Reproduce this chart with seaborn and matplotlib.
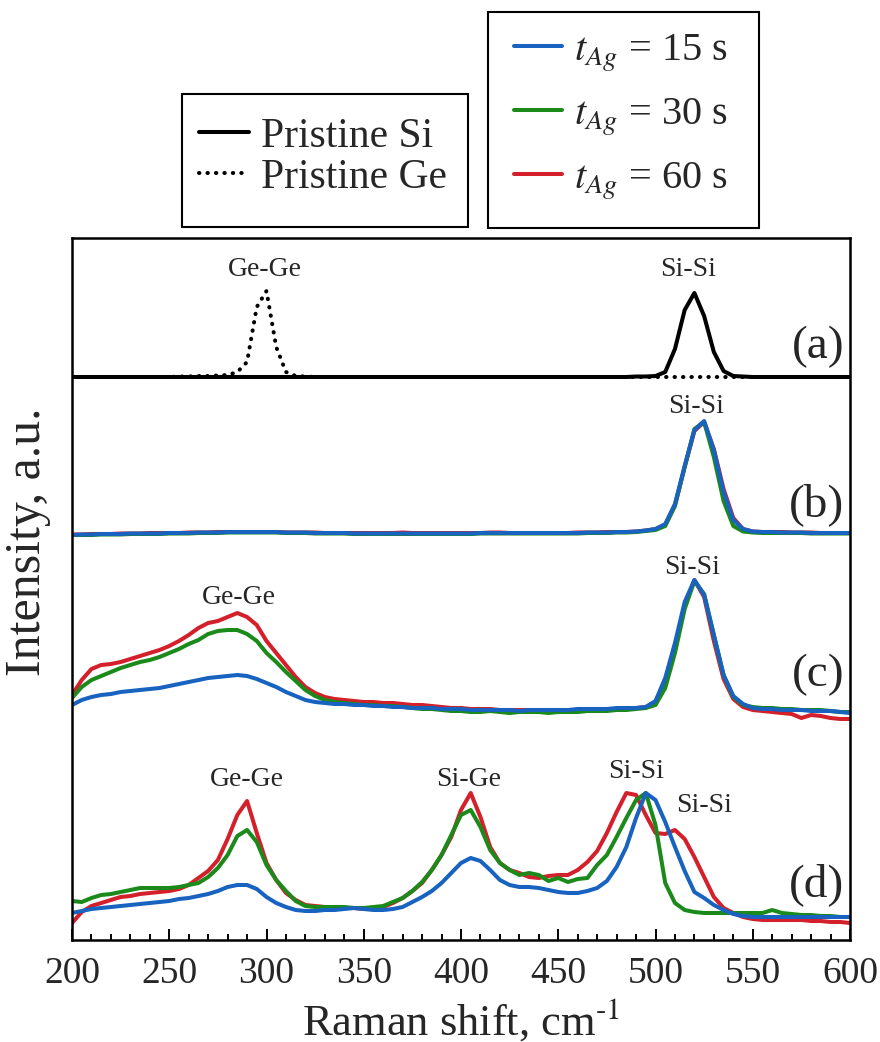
import pandas as pd
import seaborn as sns
import matplotlib.pyplot as plt
from matplotlib.lines import Line2D
from matplotlib.patches import Rectangle
from matplotlib.ticker import MultipleLocator

# Raman shift grid, cm-1 (5 cm-1 steps)
shift = list(range(200, 605, 5))

# (a) pristine wafers
a_si = [0, 0, 0, 0, 0, 0, 0, 0, 0, 0,
        0, 0, 0, 0, 0, 0, 0, 0, 0, 0,
        0, 0, 0, 0, 0, 0, 0, 0, 0, 0,
        0, 0, 0, 0, 0, 0, 0, 0, 0, 0,
        0, 0, 0, 0, 0, 0, 0, 0, 0, 0,
        0, 0, 0, 0, 0, 0, 0, 0, 0.5, 0.5,
        1, 5, 28, 67, 84, 61, 25, 6, 1, 0.5,
        0, 0, 0, 0, 0, 0, 0, 0, 0, 0,
        0]
a_ge = [0, 0, 0, 0, 0, 0, 0, 0, 0, 0,
        0, 0.5, 0.5, 1, 1, 1.5, 2, 5, 15, 70,
        86, 30, 5, 1, 0.5, 0, 0, 0, 0, 0,
        0, 0, 0, 0, 0, 0, 0, 0, 0, 0,
        0, 0, 0, 0, 0, 0, 0, 0, 0, 0,
        0, 0, 0, 0, 0, 0, 0, 0, 0, 0,
        0, 0, 0, 0, 0, 0, 0, 0, 0, 0,
        0, 0, 0, 0, 0, 0, 0, 0, 0, 0,
        0]

# (b)
b_15 = [0, 0.5, 0.5, 1, 1, 1, 1.5, 1.5, 1.5, 1.5,
        2, 2, 2, 2.5, 2.5, 2.5, 3, 3, 3, 3,
        3, 3, 2.5, 2.5, 2.5, 2, 2, 2, 2, 1.5,
        1.5, 1.5, 1.5, 1.5, 1.5, 1.5, 1.5, 1.5, 1.5, 1.5,
        1.5, 1.5, 2, 2, 2, 2, 2, 2, 2, 2,
        2, 2, 2, 2.5, 2.5, 2.5, 3, 3, 3.5, 4.5,
        6, 11, 31, 69, 105, 114, 85, 43, 15, 6,
        3.5, 3, 3, 2.5, 2.5, 2.5, 2, 2, 2, 2,
        2]
b_30 = [0, 0, 0, 0.5, 0.5, 0.5, 1, 1, 1, 1,
        1.5, 1.5, 1.5, 2, 2, 2, 2.5, 2.5, 2.5, 2.5,
        2.5, 2.5, 2, 2, 2, 1.5, 1.5, 1.5, 1.5, 1,
        1, 1, 1, 1, 1, 1, 1, 1, 1, 1,
        1, 1, 1.5, 1.5, 1.5, 1.5, 1.5, 1.5, 1.5, 1.5,
        1.5, 1.5, 1.5, 2, 2, 2, 2.5, 2.5, 3, 4,
        5, 9, 29, 68, 106, 113, 78, 34, 9, 3.5,
        2.5, 2, 2, 2, 2, 2, 1.5, 1.5, 1.5, 1.5,
        1.5]
b_60 = [0.5, 0.5, 1, 1, 1, 1.5, 1.5, 1.5, 2, 2,
        2, 2, 2.5, 2.5, 2.5, 3, 3, 3, 3, 3,
        3, 3, 2.5, 2.5, 2.5, 2.5, 2, 2, 2, 2,
        2, 2, 2, 2, 2.5, 2, 2, 2, 2, 2,
        2, 2, 2, 2.5, 2.5, 2, 2, 2, 2, 2,
        2, 2, 2.5, 2.5, 2.5, 3, 3, 3, 3.5, 4.5,
        6, 10, 30, 68, 104, 113, 86, 46, 17, 6,
        3.5, 3, 3, 3, 2.5, 2.5, 2.5, 2, 2, 2,
        2]

# (c)
c_15 = [0, 5, 8, 10, 11, 13, 14, 15, 16, 17,
        19, 21, 23, 25, 27, 28, 29, 30, 29, 26,
        22, 18, 13, 9, 5, 3, 2, 1, 1, 0,
        0, -1, -1, -2, -2, -3, -3, -3, -4, -4,
        -4, -5, -5, -5, -5, -5, -6, -5, -5, -5,
        -5, -5, -4, -4, -4, -4, -3, -3, -3, -2,
        4, 27, 62, 103, 125, 110, 70, 30, 9, 1,
        -3, -4, -4, -5, -5, -5, -6, -6, -6, -7,
        -8]
c_30 = [7, 18, 25, 29, 33, 37, 40, 43, 45, 48,
        52, 56, 61, 65, 71, 74, 75, 75, 71, 64,
        52, 43, 33, 24, 15, 9, 5, 3, 2, 1,
        0, 0, -1, -1, -2, -3, -4, -4, -5, -6,
        -6, -7, -7, -6, -7, -8, -7, -7, -7, -8,
        -7, -7, -7, -6, -6, -6, -5, -5, -4, -3,
        0, 17, 52, 96, 124, 111, 70, 30, 8, 0,
        -2, -3, -3, -4, -4, -5, -5, -5, -6, -7,
        -7]
c_60 = [10, 25, 36, 40, 41, 43, 46, 49, 52, 55,
        59, 64, 70, 77, 82, 84, 88, 92, 88, 80,
        64, 52, 40, 28, 18, 12, 8, 6, 5, 4,
        3, 3, 2, 2, 1, 0, 0, -1, -2, -3,
        -3, -4, -4, -4, -5, -5, -5, -5, -6, -5,
        -5, -6, -5, -5, -5, -4, -4, -3, -3, -2,
        3, 22, 57, 100, 125, 108, 64, 26, 6, -2,
        -5, -6, -7, -8, -9, -13, -10, -11, -13, -14,
        -14]

# (d)
d_15 = [2, 4, 6, 7, 8, 9, 10, 11, 12, 13,
        14, 16, 17, 19, 21, 24, 28, 30, 30, 26,
        18, 12, 8, 5, 4, 4, 5, 5, 6, 7,
        6, 5, 5, 6, 8, 13, 18, 24, 32, 42,
        52, 57, 54, 45, 35, 30, 28, 28, 27, 25,
        23, 22, 22, 24, 27, 34, 48, 68, 97, 122,
        115, 93, 68, 44, 23, 17, 10, 5, 1, -1,
        -2, -2, -2, -2, -2, -2, -2, -2, -2, -2,
        -2]
d_30 = [14, 13, 17, 20, 21, 23, 25, 27, 27, 27,
        27, 28, 30, 32, 38, 47, 60, 79, 85, 73,
        50, 35, 24, 14, 9, 8, 8, 8, 8, 7,
        7, 8, 9, 13, 17, 24, 33, 45, 60, 80,
        100, 105, 88, 65, 52, 45, 40, 42, 40, 34,
        37, 33, 36, 37, 50, 60, 78, 97, 115, 122,
        90, 32, 12, 5, 3, 2, 2, 2, 2, 2,
        2, 2, 5, 2, 1, 0, 0, -1, -1, -2,
        -2]
d_60 = [-8, 3, 9, 12, 15, 18, 19, 21, 22, 23,
        24, 26, 30, 37, 44, 55, 76, 100, 114, 82,
        52, 35, 22, 15, 10, 9, 8, 7, 7, 7,
        6, 6, 8, 12, 17, 24, 32, 45, 60, 78,
        105, 122, 98, 68, 52, 45, 42, 38, 37, 39,
        40, 40, 45, 53, 64, 82, 103, 122, 120, 100,
        82, 81, 85, 76, 58, 38, 18, 7, 2, -2,
        -4, -5, -5, -5, -5, -5, -6, -6, -7, -7,
        -8]

panels = ["a", "b", "c", "d"]
panel_offset = [563, 405, 235, 25]
panel_labels = ["(a)", "(b)", "(c)", "(d)"]
time_labels = [r"$t_{Ag}$ = 15 s", r"$t_{Ag}$ = 30 s", r"$t_{Ag}$ = 60 s"]

# peak labels: (text, shift, height)
peak_text = ["Ge-Ge", "Si-Si", "Si-Si", "Ge-Ge", "Si-Si", "Ge-Ge", "Si-Ge", "Si-Si", "Si-Si"]
peak_x = [299, 517, 521, 286, 519, 290, 404, 490, 525]
peak_y = [670, 670, 533, 342, 372, 160, 160, 168, 135]

sns.set_theme(style="ticks")
plt.rcParams["font.family"] = ["Liberation Serif", "DejaVu Serif"]
plt.rcParams["mathtext.fontset"] = "stix"

blue, green, red = "#1862c0", "#1b8a1b", "#d3202a"
dots = (0, (0.1, 2.0))

curves = [
    ("a", "Pristine Ge", a_ge, "black", dots),
    ("a", "Pristine Si", a_si, "black", "-"),
    ("b", "60 s", b_60, red, "-"),
    ("b", "30 s", b_30, green, "-"),
    ("b", "15 s", b_15, blue, "-"),
    ("c", "60 s", c_60, red, "-"),
    ("c", "30 s", c_30, green, "-"),
    ("c", "15 s", c_15, blue, "-"),
    ("d", "60 s", d_60, red, "-"),
    ("d", "30 s", d_30, green, "-"),
    ("d", "15 s", d_15, blue, "-"),
]

frames = []
for panel, name, vals, _, _ in curves:
    off = panel_offset[panels.index(panel)]
    frames.append(pd.DataFrame({"panel": panel, "series": name, "shift": shift,
                                "intensity": [v + off for v in vals]}))
df = pd.concat(frames, ignore_index=True)

fig = plt.figure(figsize=(8.8, 10.42), dpi=100)
ax = fig.add_axes([72 / 880, 102 / 1042, 778 / 880, 702 / 1042])

for panel, name, _, color, ls in curves:
    sub = df[(df["panel"] == panel) & (df["series"] == name)]
    sns.lineplot(data=sub, x="shift", y="intensity", color=color, linestyle=ls,
                 lw=2.9, errorbar=None, legend=False, ax=ax,
                 dash_capstyle="round", solid_joinstyle="round")

for lab, off in zip(panel_labels, panel_offset):
    ax.text(597, off + 30, lab, ha="right", va="center", fontsize=34)
for t, x, y in zip(peak_text, peak_x, peak_y):
    ax.text(x, y, t, ha="center", va="center", fontsize=20)

ax.set_xlim(200, 600)
ax.set_ylim(0, 702)
ax.set_yticks([])
ax.xaxis.set_major_locator(MultipleLocator(50))
ax.xaxis.set_minor_locator(MultipleLocator(10))
ax.tick_params(axis="x", which="both", direction="in", top=False, bottom=True,
               color="black", width=1.4)
ax.tick_params(axis="x", which="major", length=8, labelsize=27, pad=12)
ax.tick_params(axis="x", which="minor", length=4)
for sp in ax.spines.values():
    sp.set_visible(True)
    sp.set_linewidth(1.8)
    sp.set_color("black")

ax.set_xlabel(r"Raman shift, cm$^{\text{-}1}$", fontsize=32, labelpad=4)
ax.set_ylabel("Intensity, a.u.", fontsize=36)
ax.yaxis.set_label_coords(-0.027, 0.567)

# legends (frameless, boxed by hand to match the tall boxes of the original)
h1 = [Line2D([], [], color="black", lw=2.9, ls="-"),
      Line2D([], [], color="black", lw=2.9, ls=dots, dash_capstyle="round")]
fig.legend(h1, ["Pristine Si", "Pristine Ge"], loc="center",
           bbox_to_anchor=(323 / 880, 1 - 157 / 1042), fontsize=30,
           frameon=False, handlelength=1.2, handletextpad=0.3,
           labelspacing=0.05, borderpad=0, borderaxespad=0)
fig.patches.append(Rectangle((182 / 880, 1 - 227 / 1042), 286 / 880, 133 / 1042,
                             transform=fig.transFigure, fill=False,
                             edgecolor="black", lw=1.5))

h2 = [Line2D([], [], color=c, lw=2.9) for c in (blue, green, red)]
fig.legend(h2, time_labels, loc="center",
           bbox_to_anchor=(621 / 880, 1 - 117 / 1042), fontsize=29,
           frameon=False, handlelength=1.2, handletextpad=0.3,
           labelspacing=0.55, borderpad=0, borderaxespad=0)
fig.patches.append(Rectangle((488 / 880, 1 - 228 / 1042), 271 / 880, 216 / 1042,
                             transform=fig.transFigure, fill=False,
                             edgecolor="black", lw=1.5))

fig.savefig("out.png", dpi=100)
